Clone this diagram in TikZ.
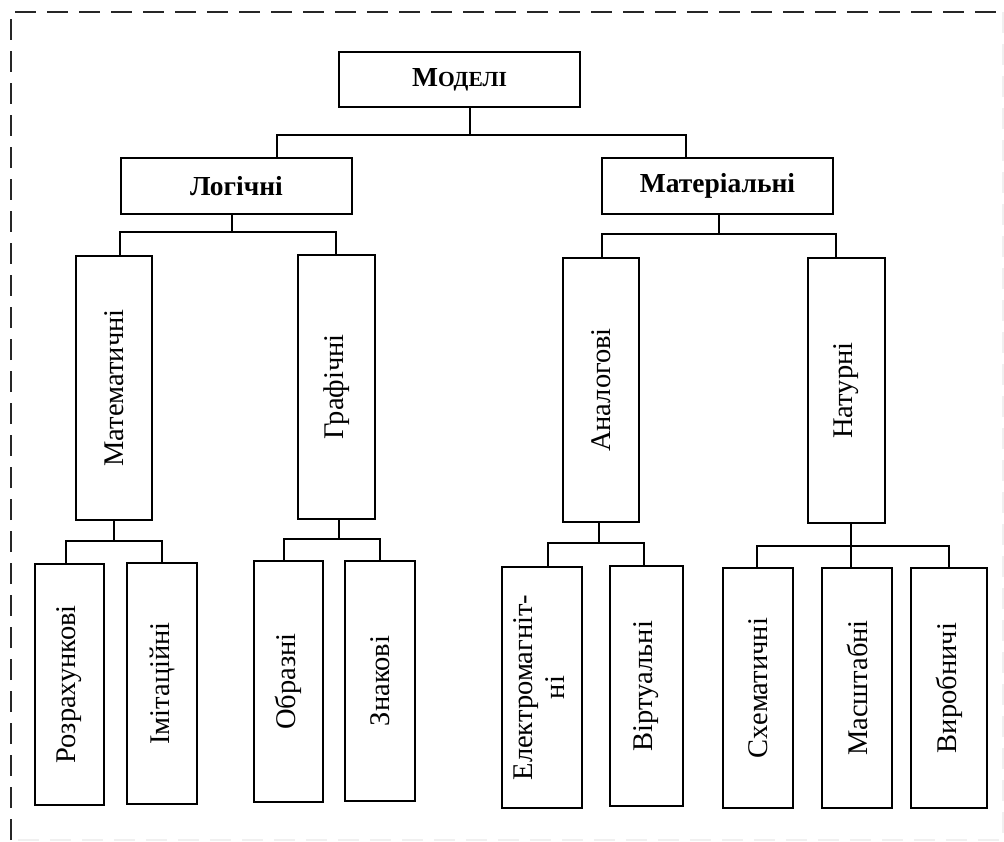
\documentclass[tikz,border=0pt]{standalone}
\usepackage{fontspec}
\setmainfont{Liberation Serif}
\usepackage{graphicx}
\begin{document}
\begin{tikzpicture}[x=1pt,y=-1pt,
  box/.style={draw=black,line width=1.7pt,inner sep=0pt,align=center,
    font=\fontsize{28.5}{34}\selectfont},
  headbox/.style={box,font=\bfseries\fontsize{27.5}{32}\selectfont},
  link/.style={draw=black,line width=1.4pt},
  frameline/.style={line width=1.3pt,dash pattern=on 21pt off 11pt}]
\useasboundingbox (0,0) rectangle (1004,842);

% outer dashed frame
\draw[frameline,black!85] (11,840) -- (11,12) -- (1003,12);
\draw[frameline,black!6] (1003,12) -- (1003,840) -- (11,840);

% root and first level
\node[headbox,minimum width=241pt,minimum height=55pt] (mod) at (459.5,79.5)
  {М{\fontsize{21.5}{24}\selectfont ОДЕЛІ}};
\node[headbox,minimum width=231pt,minimum height=56pt] (log) at (236.5,186) {Логічні};
\node[headbox,minimum width=231pt,minimum height=56pt] (mat) at (717.5,186) {Матеріальні};

% second level
\node[box,minimum width=76pt,minimum height=264pt] (math) at (114,388) {\rotatebox{90}{Математичні}};
\node[box,minimum width=77pt,minimum height=264pt] (graf) at (336.5,387) {\rotatebox{90}{Графічні}};
\node[box,minimum width=76pt,minimum height=264pt] (anal) at (601,390) {\rotatebox{90}{Аналогові}};
\node[box,minimum width=77pt,minimum height=265pt] (nat) at (846.5,390.5) {\rotatebox{90}{Натурні}};

% third level
\node[box,minimum width=69pt,minimum height=241pt] (rozr) at (69.5,684.5) {\rotatebox{90}{Розрахункові}};
\node[box,minimum width=70pt,minimum height=241pt] (imit) at (162,683.5) {\rotatebox{90}{Імітаційні}};
\node[box,minimum width=69pt,minimum height=241pt] (obr) at (288.5,681.5) {\rotatebox{90}{Образні}};
\node[box,minimum width=70pt,minimum height=240pt] (znak) at (380,681) {\rotatebox{90}{Знакові}};
\node[box,minimum width=80pt,minimum height=241pt] (elek) at (542,687.5)
  {\rotatebox{90}{\begin{tabular}{@{}c@{}}Електромагніт-\\[-2pt]ні\end{tabular}}};
\node[box,minimum width=73pt,minimum height=240pt] (virt) at (646.5,686) {\rotatebox{90}{Віртуальні}};
\node[box,minimum width=70pt,minimum height=240pt] (sxem) at (758,688) {\rotatebox{90}{Схематичні}};
\node[box,minimum width=70pt,minimum height=240pt] (masht) at (857,688) {\rotatebox{90}{Масштабні}};
\node[box,minimum width=76pt,minimum height=240pt] (vyrob) at (949,688) {\rotatebox{90}{Виробничі}};

% bus junctions
\coordinate (s0) at (470,135);
\coordinate (b0l) at (277,135);
\coordinate (b0r) at (686,135);
\coordinate (s1) at (232,232);
\coordinate (b1l) at (120,232);
\coordinate (b1r) at (336,232);
\coordinate (s2) at (719,234);
\coordinate (b2l) at (602,234);
\coordinate (b2r) at (836,234);
\coordinate (s3) at (114,541);
\coordinate (b3l) at (66,541);
\coordinate (b3r) at (162,541);
\coordinate (s4) at (339,539);
\coordinate (b4l) at (284,539);
\coordinate (b4r) at (380,539);
\coordinate (s5) at (599,543);
\coordinate (b5l) at (548,543);
\coordinate (b5r) at (644,543);
\coordinate (s6) at (851,546);
\coordinate (b6l) at (757,546);
\coordinate (b6r) at (949,546);

% connectors
\draw[link] (mod.south -| s0) -- (s0);
\draw[link] (b0l |- log.north) -- (b0l) -- (b0r) -- (b0r |- mat.north);

\draw[link] (log.south -| s1) -- (s1);
\draw[link] (b1l |- math.north) -- (b1l) -- (b1r) -- (b1r |- graf.north);

\draw[link] (mat.south -| s2) -- (s2);
\draw[link] (b2l |- anal.north) -- (b2l) -- (b2r) -- (b2r |- nat.north);

\draw[link] (math.south -| s3) -- (s3);
\draw[link] (b3l |- rozr.north) -- (b3l) -- (b3r) -- (b3r |- imit.north);

\draw[link] (graf.south -| s4) -- (s4);
\draw[link] (b4l |- obr.north) -- (b4l) -- (b4r) -- (b4r |- znak.north);

\draw[link] (anal.south -| s5) -- (s5);
\draw[link] (b5l |- elek.north) -- (b5l) -- (b5r) -- (b5r |- virt.north);

\draw[link] (nat.south -| s6) -- (s6 |- masht.north);
\draw[link] (b6l |- sxem.north) -- (b6l) -- (b6r) -- (b6r |- vyrob.north);
\end{tikzpicture}
\end{document}
